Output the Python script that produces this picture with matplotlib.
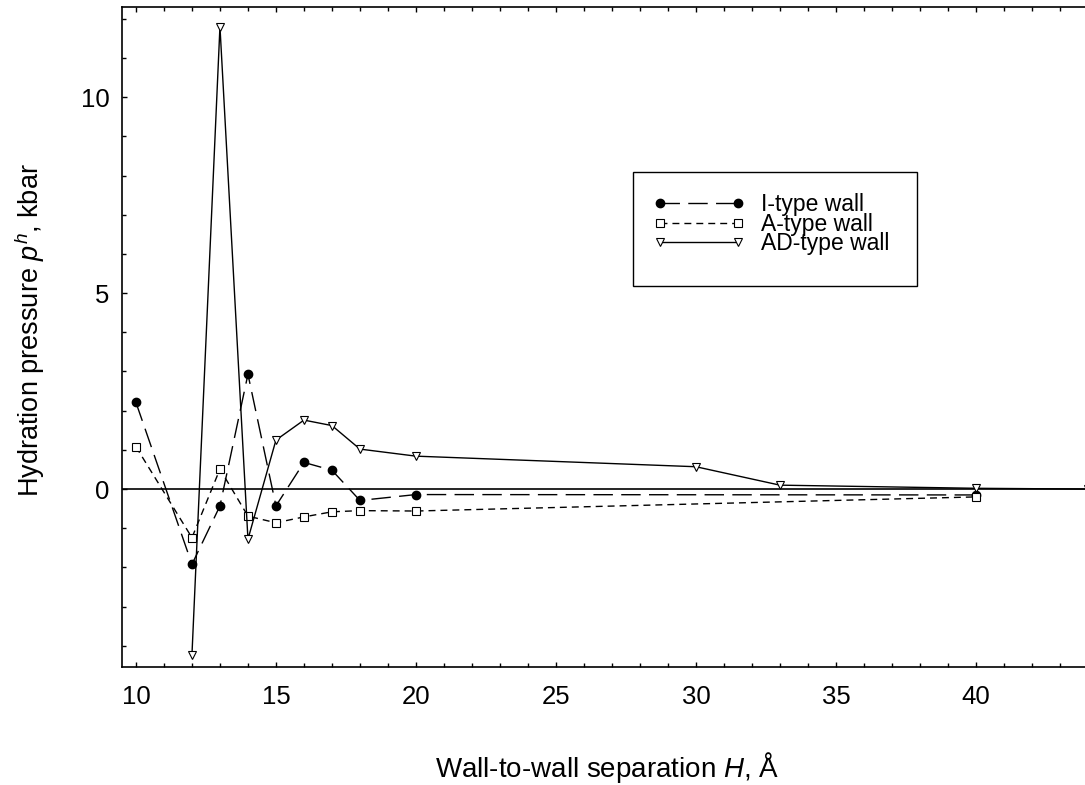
import numpy as np
import matplotlib
matplotlib.use("Agg")
import matplotlib.pyplot as plt
from matplotlib.patches import Rectangle
from matplotlib.ticker import MultipleLocator

plt.rcParams["font.family"] = ["Liberation Sans", "DejaVu Sans"]
plt.rcParams["mathtext.fontset"] = "custom"
plt.rcParams["mathtext.rm"] = "Liberation Sans"
plt.rcParams["mathtext.it"] = "Liberation Sans:italic"

# wall-to-wall separation H (A) and hydration pressure (kbar)
h_i = [10, 12, 13, 14, 15, 16, 17, 18, 20, 40]
p_i = [2.21, -1.92, -0.43, 2.93, -0.43, 0.68, 0.48, -0.29, -0.14, -0.15]

h_a = [10, 12, 13, 14, 15, 16, 17, 18, 20, 40]
p_a = [1.08, -1.24, 0.51, -0.69, -0.86, -0.71, -0.58, -0.55, -0.56, -0.20]

h_ad = [12, 13, 14, 15, 16, 17, 18, 20, 30, 33, 40, 44]
p_ad = [-4.23, 11.8, -1.28, 1.25, 1.76, 1.62, 1.02, 0.84, 0.57, 0.10, 0.02, 0.0]

labels = ["I-type wall", "A-type wall", "AD-type wall"]

fig = plt.figure(figsize=(10.85, 7.85), dpi=100)
ax = fig.add_axes([0.1124, 0.1503, 0.8903, 0.8408])

ax.axhline(0, color="black", lw=1.2, zorder=1)

l1, = ax.plot(h_i, p_i, color="black", lw=1.0, linestyle=(0, (14, 6)),
              marker="o", ms=6, mfc="black", mec="black", label=labels[0])
l2, = ax.plot(h_a, p_a, color="black", lw=1.0, linestyle=(0, (5, 3.6)),
              marker="s", ms=5.5, mfc="white", mec="black", mew=0.8, label=labels[1])
l3, = ax.plot(h_ad, p_ad, color="black", lw=1.0, linestyle="-",
              marker="v", ms=6, mfc="white", mec="black", mew=0.8, label=labels[2])

ax.set_xlim(9.5, 44)
ax.set_ylim(-4.54, 12.3)
ax.xaxis.set_major_locator(MultipleLocator(5))
ax.xaxis.set_minor_locator(MultipleLocator(1))
ax.yaxis.set_major_locator(MultipleLocator(5))
ax.yaxis.set_minor_locator(MultipleLocator(1))
ax.set_xticks([10, 15, 20, 25, 30, 35, 40])

ax.tick_params(which="both", direction="in", top=True, right=False, width=1.0)
ax.tick_params(which="major", length=3.8, labelsize=18.5)
ax.tick_params(axis="x", which="major", pad=13)
ax.tick_params(axis="y", which="major", pad=9)
ax.tick_params(which="minor", length=2.6)
for side in ["left", "bottom", "top"]:
    ax.spines[side].set_linewidth(1.2)
ax.spines["right"].set_visible(False)

ax.set_xlabel("Wall-to-wall separation $H$, Å", fontsize=20)
ax.set_ylabel("Hydration pressure $p^h$, kbar", fontsize=19.5)
ax.xaxis.set_label_coords(0.502, -0.126)
ax.yaxis.set_label_coords(-0.078, 0.51)

leg = ax.legend(handles=[l1, l2, l3], loc="upper left",
                bbox_to_anchor=(653 / 1085, 1 - 193 / 785),
                bbox_transform=fig.transFigure, frameon=False, fontsize=16.5,
                numpoints=2, handlelength=4.0, handletextpad=0.7,
                labelspacing=-0.15, borderpad=0, borderaxespad=0)
fig.add_artist(Rectangle((633 / 1085, 1 - 286 / 785), 284 / 1085, 114 / 785,
                         transform=fig.transFigure, fill=False,
                         edgecolor="black", lw=1.0))

fig.savefig("out.png", dpi=100)
